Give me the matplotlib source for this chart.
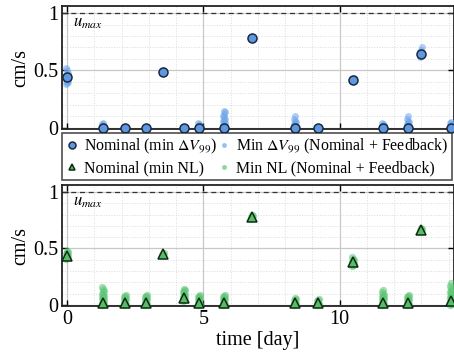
import matplotlib
matplotlib.use("Agg")
import matplotlib.pyplot as plt
from matplotlib.ticker import MultipleLocator

plt.rcParams['font.family'] = ['Liberation Serif', 'DejaVu Serif']
plt.rcParams['mathtext.fontset'] = 'stix'

# ---- data ----
times = [0.0, 1.32, 2.13, 2.9, 3.53, 4.3, 4.85, 5.77, 6.8, 8.35, 9.2, 10.5, 11.6, 12.5, 13.0, 14.1]

nom_dv = [0.44, 0.0, 0.0, 0.0, 0.49, 0.0, 0.0, 0.0, 0.78, 0.0, 0.0, 0.42, 0.0, 0.0, 0.64, 0.0]
nom_nl = [0.43, 0.02, 0.02, 0.02, 0.45, 0.06, 0.02, 0.02, 0.78, 0.02, 0.02, 0.38, 0.02, 0.02, 0.66, 0.03]

fb_dv = [
    [0.38, 0.39, 0.40, 0.41, 0.42, 0.43, 0.44, 0.45, 0.46, 0.47, 0.48, 0.50, 0.52],
    [0.0, 0.005, 0.01, 0.02, 0.03, 0.04],
    [0.0, 0.005, 0.01],
    [0.0, 0.005, 0.01],
    [0.475, 0.48, 0.49, 0.50],
    [0.0, 0.005, 0.01],
    [0.0, 0.01, 0.02, 0.03, 0.04],
    [0.0, 0.005, 0.01, 0.015, 0.02, 0.03, 0.04, 0.05, 0.06, 0.07, 0.08, 0.09, 0.10, 0.12, 0.14, 0.15],
    [0.775, 0.78, 0.785],
    [0.0, 0.005, 0.01, 0.02, 0.03, 0.04, 0.05, 0.06, 0.08, 0.10],
    [0.0, 0.005, 0.01],
    [0.41, 0.42, 0.43],
    [0.0, 0.01, 0.02, 0.03, 0.04],
    [0.0, 0.005, 0.01, 0.02, 0.03, 0.04, 0.05, 0.06, 0.08, 0.10],
    [0.62, 0.63, 0.64, 0.65, 0.66, 0.68, 0.70],
    [0.0, 0.01, 0.02, 0.03, 0.04, 0.05],
]
fb_nl = [
    [0.41, 0.42, 0.43, 0.44, 0.45, 0.46, 0.47, 0.48],
    [0.0, 0.005, 0.01, 0.015, 0.02, 0.03, 0.04, 0.05, 0.06, 0.07, 0.08, 0.09, 0.10, 0.11, 0.12, 0.14, 0.16],
    [0.0, 0.005, 0.01, 0.02, 0.03, 0.04, 0.05, 0.06, 0.07, 0.08, 0.09],
    [0.0, 0.005, 0.01, 0.02, 0.03, 0.04, 0.05, 0.06, 0.07, 0.08, 0.09],
    [0.44, 0.45, 0.46],
    [0.03, 0.04, 0.05, 0.06, 0.07, 0.08, 0.09, 0.10, 0.11, 0.12, 0.13, 0.14],
    [0.0, 0.005, 0.01, 0.02, 0.03, 0.04, 0.05, 0.06, 0.07, 0.08, 0.09],
    [0.0, 0.005, 0.01, 0.02, 0.03, 0.04, 0.05, 0.06, 0.07, 0.08, 0.09],
    [0.77, 0.78, 0.79, 0.80],
    [0.0, 0.005, 0.01, 0.02, 0.03, 0.04, 0.05, 0.06],
    [0.0, 0.005, 0.01, 0.02, 0.03, 0.04, 0.05],
    [0.34, 0.35, 0.36, 0.37, 0.38, 0.39, 0.40, 0.41, 0.42],
    [0.0, 0.005, 0.01, 0.02, 0.03, 0.04, 0.05, 0.06, 0.07, 0.08, 0.09, 0.10, 0.11, 0.13],
    [0.0, 0.005, 0.01, 0.02, 0.03, 0.04, 0.05, 0.06, 0.07, 0.08, 0.09],
    [0.65, 0.66, 0.67, 0.68],
    [0.0, 0.005, 0.01, 0.02, 0.03, 0.04, 0.05, 0.06, 0.07, 0.08, 0.09, 0.10, 0.11, 0.12, 0.13, 0.15, 0.17, 0.19],
]
jitter = [-0.04, 0.0, 0.04, 0.0]
u_max = 1.0

labels = ["Nominal (min $\\Delta V_{99}$)", "Nominal (min NL)",
          "Min $\\Delta V_{99}$ (Nominal + Feedback)", "Min NL (Nominal + Feedback)"]

# ---- style ----
blue_nom = '#5f97e0'
blue_fb = '#6fa6ec'
green_nom = '#58bd68'
green_fb = '#5ec677'

fig = plt.figure(figsize=(4.54, 3.63), dpi=100)
ax1 = fig.add_axes([0.137, 0.645, 0.863, 0.338])
ax2 = fig.add_axes([0.137, 0.157, 0.863, 0.333])


def style(ax):
    ax.set_xlim(-0.18, 14.2)
    ax.set_ylim(-0.01, 1.06)
    ax.xaxis.set_major_locator(MultipleLocator(5))
    ax.xaxis.set_minor_locator(MultipleLocator(1))
    ax.yaxis.set_major_locator(MultipleLocator(0.5))
    ax.yaxis.set_minor_locator(MultipleLocator(0.1))
    ax.set_yticks([0, 0.5, 1])
    ax.set_yticklabels(['0', '0.5', '1'])
    ax.grid(which='major', color='#c8c8c8', lw=0.9)
    ax.grid(which='minor', color='#dcdcdc', lw=0.7, ls=':')
    ax.set_axisbelow(True)
    ax.tick_params(which='both', direction='in', top=True, right=True, labelsize=14.5)
    ax.tick_params(which='major', length=4, width=1.0, pad=3)
    ax.tick_params(which='minor', length=0)
    for s in ax.spines.values():
        s.set_linewidth(1.3)
        s.set_color('#222222')
    ax.axhline(u_max, color='#333333', ls='--', lw=0.9, dashes=(4, 3))
    ax.text(0.2, 0.91, '$u_{max}$', fontsize=12, va='center', ha='left')
    ax.set_ylabel('cm/s', fontsize=14.5, labelpad=2)


style(ax1)
style(ax2)

for t, vals in zip(times, fb_dv):
    for j, v in enumerate(vals):
        ax1.plot(t + jitter[j % 4], v, 'o', ms=5, color=blue_fb, alpha=0.55, mec='none', clip_on=False, zorder=3)
for t, vals in zip(times, fb_nl):
    for j, v in enumerate(vals):
        ax2.plot(t + jitter[j % 4], v, 'o', ms=5.3, color=green_fb, alpha=0.55, mec='none', clip_on=False, zorder=3)

h1, = ax1.plot(times, nom_dv, 'o', ms=6.5, mfc=blue_nom, mec='#1a2a40', mew=1.1, ls='none', clip_on=False, zorder=4)
h2, = ax2.plot(times, nom_nl, '^', ms=6.5, mfc=green_nom, mec='#0f2a12', mew=1.1, ls='none', clip_on=False, zorder=4)

ax1.tick_params(labelbottom=False)
ax2.set_xlabel('time [day]', fontsize=14.5, labelpad=1)

hl1, = ax1.plot([], [], 'o', ms=5, mfc=blue_nom, mec='#1a2a40', mew=1.1, ls='none')
hl2, = ax1.plot([], [], '^', ms=5, mfc=green_nom, mec='#0f2a12', mew=1.1, ls='none')
hl3, = ax1.plot([], [], 'o', ms=3.5, color=blue_fb, mec='none', ls='none', alpha=0.7)
hl4, = ax1.plot([], [], 'o', ms=3.5, color=green_fb, mec='none', ls='none', alpha=0.7)

leg = fig.legend([hl1, hl2, hl3, hl4], labels, ncol=2, loc='lower left',
                 bbox_to_anchor=(0.137, 0.503, 0.859, 0.133), mode='expand',
                 fontsize=11.4, frameon=True, fancybox=False, edgecolor='#222222',
                 handlelength=0.7, handletextpad=0.4, columnspacing=0.5,
                 borderpad=0.25, labelspacing=0.3, borderaxespad=0)
leg.get_frame().set_linewidth(1.2)

fig.savefig('out.png', dpi=100)
